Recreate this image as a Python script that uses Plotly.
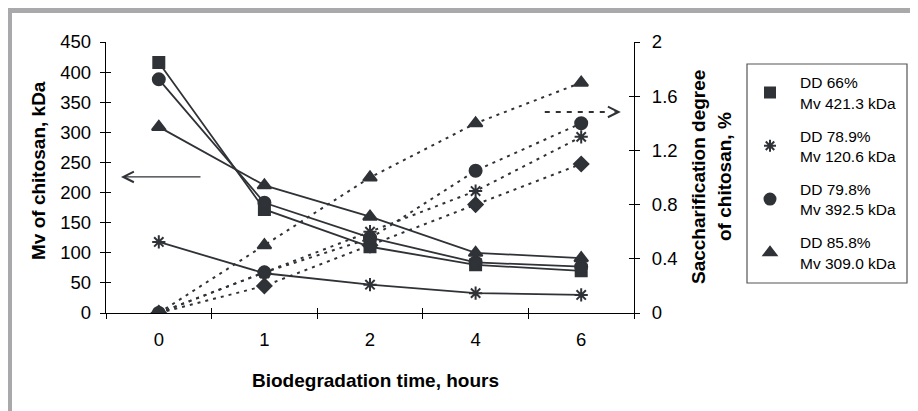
import plotly.graph_objects as go

hours = ["0", "1", "2", "4", "6"]

# Molecular weight (left axis, kDa)
mv_dd66 = [416, 172, 110, 80, 70]
mv_dd789 = [118, 66, 47, 33, 30]
mv_dd798 = [388, 183, 125, 84, 77]
mv_dd858 = [309, 212, 160, 100, 91]

# Saccharification degree (right axis, %)
sac_dd66 = [0, 0.2, 0.5, 0.8, 1.1]
sac_dd789 = [0, 0.3, 0.6, 0.9, 1.3]
sac_dd798 = [0, 0.3, 0.55, 1.05, 1.4]
sac_dd858 = [0, 0.5, 1.0, 1.4, 1.7]

legend_names = ["DD 66%<br>Mv 421.3 kDa", "DD 78.9%<br>Mv 120.6 kDa",
                "DD 79.8%<br>Mv 392.5 kDa", "DD 85.8%<br>Mv 309.0 kDa"]

y1_ticks = [0, 50, 100, 150, 200, 250, 300, 350, 400, 450]
y2_ticks = [0, 0.4, 0.8, 1.2, 1.6, 2]
y2_ticktext = ["0", "0.4", "0.8", "1.2", "1.6", "2"]

DARK = "#2f3236"
FONT = "Arial, Liberation Sans, sans-serif"

fig = go.Figure()

mv_series = [mv_dd66, mv_dd789, mv_dd798, mv_dd858]
sac_series = [sac_dd66, sac_dd789, sac_dd798, sac_dd858]
mv_symbols = ["square", "asterisk-open", "circle", "triangle-up"]
sac_symbols = ["diamond", "asterisk-open", "circle", "triangle-up"]
sizes = [11, 11, 12, 12]

for vals, sym, sz in zip(sac_series, sac_symbols, sizes):
    fig.add_trace(go.Scatter(
        x=hours, y=vals, yaxis="y2", mode="lines+markers", showlegend=False,
        line=dict(color=DARK, width=2, dash="3px,5px"),
        marker=dict(symbol=sym, size=sz, color=DARK, line=dict(color=DARK, width=2)),
        hoverinfo="skip"))

for vals, sym, sz in zip(mv_series, mv_symbols, sizes):
    fig.add_trace(go.Scatter(
        x=hours, y=vals, mode="lines+markers", showlegend=False,
        line=dict(color=DARK, width=1.8),
        marker=dict(symbol=sym, size=sz, color=DARK, line=dict(color=DARK, width=2)),
        hoverinfo="skip"))

for i, (name, sym, sz) in enumerate(zip(legend_names, mv_symbols, sizes)):
    fig.add_trace(go.Scatter(
        x=[None], y=[None], mode="markers", name=name, legendgroup=str(i),
        marker=dict(symbol=sym, size=sz - 1, color=DARK, line=dict(color=DARK, width=2))))

# invisible helpers so the inner half of the crossing ticks gets drawn
fig.add_trace(go.Scatter(x=hours, y=[None] * len(hours), xaxis="x2", yaxis="y3",
                         mode="markers", showlegend=False, hoverinfo="skip"))
fig.add_trace(go.Scatter(x=hours, y=[None] * len(hours), xaxis="x2", yaxis="y4",
                         mode="markers", showlegend=False, hoverinfo="skip"))

axis_common = dict(showgrid=False, zeroline=False, showline=True, linecolor="black",
                   linewidth=1.3, ticks="outside", ticklen=5, tickcolor="black",
                   tickwidth=1.3, tickfont=dict(family=FONT, size=18.5, color="black"))
inner = dict(showgrid=False, zeroline=False, showline=False, ticks="inside",
             ticklen=5, tickcolor="black", tickwidth=1.3, showticklabels=False)

# page has an 8px body margin: plot area lands at page x 106..634, y 42..313
fig.update_layout(
    width=918, height=411,
    margin=dict(l=98, r=292, t=34, b=106, autoexpand=False),
    paper_bgcolor="white", plot_bgcolor="white",
    font=dict(family=FONT, color="black"),
    xaxis=dict(type="category", categoryorder="array", categoryarray=hours,
               range=[-0.5, 4.5], tickson="boundaries", ticklabelstandoff=10,
               **axis_common),
    yaxis=dict(range=[0, 450], tickvals=y1_ticks, ticklabelstandoff=5, **axis_common),
    yaxis2=dict(range=[0, 2], tickvals=y2_ticks, ticktext=y2_ticktext, overlaying="y",
                side="right", ticklabelstandoff=8, **axis_common),
    xaxis2=dict(type="category", categoryorder="array", categoryarray=hours,
                range=[-0.5, 4.5], tickson="boundaries", overlaying="x",
                anchor="y3", side="bottom", **inner),
    yaxis3=dict(range=[0, 450], tickvals=y1_ticks, overlaying="y", anchor="x2",
                side="left", **inner),
    yaxis4=dict(range=[0, 2], tickvals=y2_ticks, overlaying="y", anchor="x2",
                side="right", **inner),
    legend=dict(x=(740 - 106) / 528, y=0.912, xanchor="left", yanchor="top",
                borderwidth=0, bgcolor="rgba(0,0,0,0)",
                font=dict(family=FONT, size=15.5, color="black"),
                tracegroupgap=10, traceorder="grouped", itemwidth=50),
    showlegend=True,
)

# legend frame
fig.add_shape(type="rect", xref="paper", yref="paper",
              x0=(747 - 106) / 528, x1=(907 - 106) / 528,
              y0=(313 - 283) / 271, y1=(313 - 64) / 271,
              line=dict(color="#555555", width=1.2))

title_font = dict(family=FONT, size=19, color="black")
# axis titles
fig.add_annotation(text="<b>Mv of chitosan, kDa</b>", xref="paper", yref="paper",
                   x=(38 - 106) / 528, y=(313 - 171) / 271, textangle=-90,
                   showarrow=False, xanchor="center", yanchor="middle", font=title_font)
fig.add_annotation(text="<b>Biodegradation time, hours</b>", xref="paper", yref="paper",
                   x=(375 - 106) / 528, y=(313 - 380) / 271, showarrow=False,
                   xanchor="center", yanchor="middle", font=title_font)
fig.add_annotation(text="<b>Saccharification degree</b>", xref="paper", yref="paper",
                   x=(698 - 106) / 528, y=(313 - 177) / 271, textangle=-90,
                   showarrow=False, xanchor="center", yanchor="middle", font=title_font)
fig.add_annotation(text="<b>of chitosan, %</b>", xref="paper", yref="paper",
                   x=(724 - 106) / 528, y=(313 - 177) / 271, textangle=-90,
                   showarrow=False, xanchor="center", yanchor="middle", font=title_font)

# solid arrow pointing to left axis
fig.add_annotation(xref="paper", yref="paper", x=0.0284, y=0.502,
                   ax=81, ay=0, axref="pixel", ayref="pixel",
                   text="", showarrow=True, arrowhead=5, arrowsize=1.6,
                   arrowwidth=1.3, arrowcolor=DARK)
# dotted arrow pointing to right axis
fig.add_shape(type="line", xref="paper", yref="paper", x0=0.831, x1=0.955,
              y0=0.742, y1=0.742, line=dict(color=DARK, width=2, dash="5px,6px"))
fig.add_annotation(xref="paper", yref="paper", x=0.975, y=0.742,
                   ax=-8, ay=0, axref="pixel", ayref="pixel",
                   text="", showarrow=True, arrowhead=5, arrowsize=1.6,
                   arrowwidth=1.3, arrowcolor=DARK)

# grey frame
fig.add_shape(type="rect", xref="paper", yref="paper",
              x0=(9.5 - 106) / 528, x1=(930 - 106) / 528,
              y0=(313 - 425) / 271, y1=(313 - 10.5) / 271,
              line=dict(color="#a9a9ac", width=5), layer="below")

fig.write_html("out.html")
